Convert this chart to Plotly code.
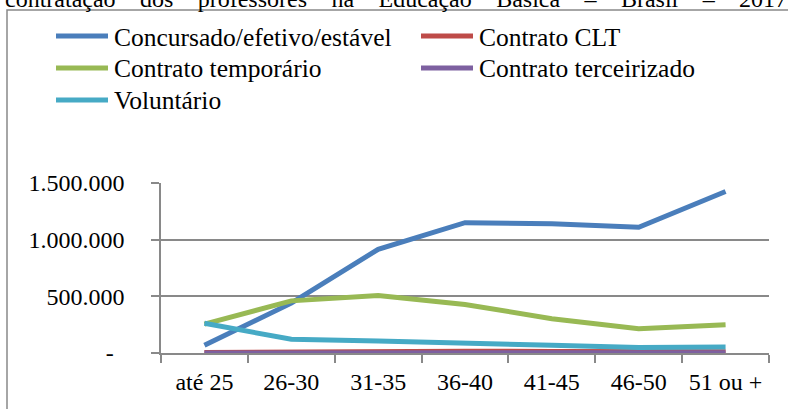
import plotly.graph_objects as go

# Faixas etárias (eixo das categorias)
faixas = ["até 25", "26-30", "31-35", "36-40", "41-45", "46-50", "51 ou +"]

# Número de professores por tipo de vínculo
concursado = [68000, 440000, 915000, 1150000, 1140000, 1110000, 1425000]
clt = [5000, 11000, 14000, 15000, 14000, 12000, 11000]
temporario = [255000, 460000, 508000, 428000, 303000, 215000, 250000]
terceirizado = [1000, 2000, 2500, 2500, 2500, 2000, 2000]
voluntario = [262000, 121000, 106000, 92000, 68000, 48000, 53000]

series_nomes = ["Concursado/efetivo/estável", "Contrato CLT", "Contrato temporário",
                "Contrato terceirizado", "Voluntário"]
series_valores = [concursado, clt, temporario, terceirizado, voluntario]
cores = ["#4A7EBB", "#BE4B48", "#98B954", "#7D60A0", "#46AAC5"]

y_ticks = [0, 500000, 1000000, 1500000]
y_labels = ["-\u00a0\u2009", "500.000", "1.000.000", "1.500.000"]

titulo = "contratação dos professores na Educação Básica – Brasil – 2017"

W, H = 788, 409
ML, MR, MT, MB = 161, 19, 183, 56
PW, PH = W - ML - MR, H - MT - MB
FONTE = "Liberation Serif"
CINZA = "#898989"


def px_x(px):
    return (px - ML) / PW


def px_y(py):
    return (H - MB - py) / PH


fig = go.Figure()
for nome, valores, cor in zip(series_nomes, series_valores, cores):
    fig.add_trace(go.Scatter(
        x=faixas, y=valores, name=nome, mode="lines",
        line=dict(color=cor, width=5), showlegend=False,
    ))

# Legenda em duas colunas
shapes = []
annotations = []
col_x = [54, 419]
row_y = [36, 68, 100]
for i, (nome, cor) in enumerate(zip(series_nomes, cores)):
    cx = col_x[i % 2]
    ry = row_y[i // 2]
    shapes.append(dict(type="line", xref="paper", yref="paper",
                       x0=px_x(cx + 2), x1=px_x(cx + 54), y0=px_y(ry), y1=px_y(ry),
                       line=dict(color=cor, width=5)))
    annotations.append(dict(xref="paper", yref="paper", x=px_x(cx + 58), y=px_y(ry + 1),
                            xanchor="left", yanchor="middle", showarrow=False,
                            text=nome, font=dict(family=FONTE, size=25.5, color="black")))

# Moldura do gráfico
shapes.append(dict(type="rect", xref="paper", yref="paper",
                   x0=px_x(7), x1=px_x(820), y0=px_y(440), y1=px_y(10),
                   line=dict(color=CINZA, width=1.5), layer="below"))

# Título (linha parcialmente visível no topo)
annotations.append(dict(xref="paper", yref="paper", x=px_x(3), y=px_y(14),
                        xanchor="left", yanchor="bottom", showarrow=False,
                        text='<span style="word-spacing:18.4px">' + titulo + "</span>",
                        font=dict(family=FONTE, size=24, color="black")))

fig.update_layout(
    width=W, height=H,
    margin=dict(l=ML, r=MR, t=MT, b=MB, pad=0),
    paper_bgcolor="white", plot_bgcolor="white",
    shapes=shapes, annotations=annotations,
    showlegend=False,
    xaxis=dict(
        type="category", range=[-0.5, 6.5], tickson="boundaries",
        ticks="outside", ticklen=8, tickwidth=1.5, tickcolor=CINZA,
        showline=True, linecolor=CINZA, linewidth=1.5,
        showgrid=False, zeroline=False,
        tickfont=dict(family=FONTE, size=24, color="black"),
        ticklabelstandoff=6,
    ),
    yaxis=dict(
        range=[0, 1500000], tickvals=y_ticks, ticktext=y_labels,
        ticks="outside", ticklen=8, tickwidth=1.5, tickcolor=CINZA,
        showline=True, linecolor=CINZA, linewidth=1.5,
        showgrid=True, gridcolor=CINZA, gridwidth=1.5, zeroline=False,
        tickfont=dict(family=FONTE, size=24, color="black"),
        ticklabelstandoff=22,
    ),
)

fig.write_html("out.html")
